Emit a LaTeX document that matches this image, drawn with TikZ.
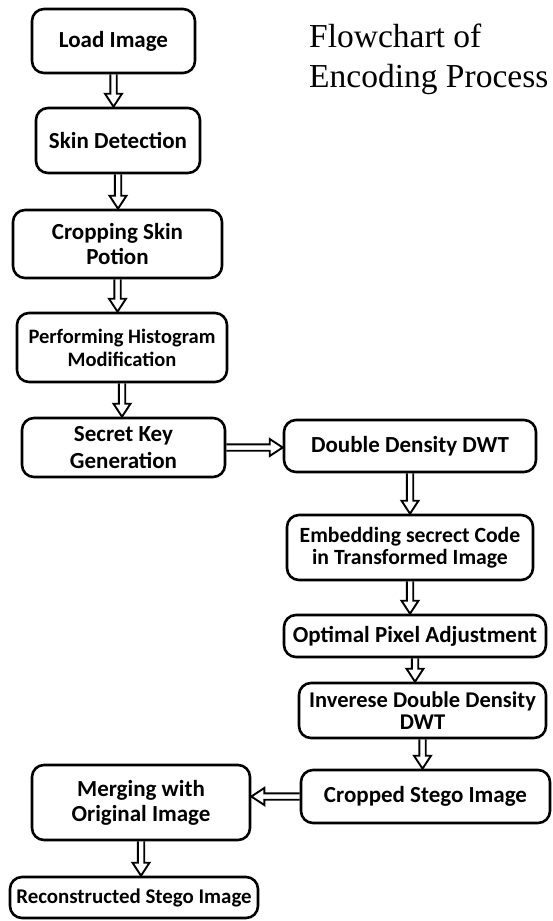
\documentclass[tikz,border=0pt]{standalone}
\usepackage{fontspec}
\setmainfont{Carlito}
\newfontfamily\titlefont{Liberation Serif}
\usetikzlibrary{calc}
\newcommand\boxfs[2]{\fontsize{#1}{#2}\selectfont\bfseries}
\tikzset{
  box/.style={draw, line width=2.6pt, rounded corners=12pt, align=center, inner sep=0pt,
    font=\boxfs{23}{25}},
  blk/.style={draw, line width=1.9pt, line join=miter, to path={
     ($(\tikztotarget)!13pt!(\tikztostart)$) coordinate (bh)
     ($(\tikztostart)!3.2pt!90:(\tikztotarget)$) -- ($(bh)!3.2pt!-90:(\tikztostart)$)
     -- ($(bh)!8.5pt!-90:(\tikztostart)$) -- (\tikztotarget)
     -- ($(bh)!8.5pt!90:(\tikztostart)$) -- ($(bh)!3.2pt!90:(\tikztostart)$)
     -- ($(\tikztostart)!3.2pt!-90:(\tikztotarget)$)
  }}
}
\begin{document}
\begin{tikzpicture}[x=1pt,y=-1pt]
\useasboundingbox (0,0) rectangle (552,921);
\node[box, minimum width=163pt, minimum height=64pt] (load) at (113.5,41) {Load Image};
\node[box, minimum width=164pt, minimum height=65pt] (skin) at (118,140.5) {Skin Detection};
\node[box, minimum width=209pt, minimum height=68pt] (crop) at (117.5,244) {Cropping Skin\\Potion};
\node[box, minimum width=210pt, minimum height=69pt, font=\boxfs{20.5}{23}] (hist) at (122,347.5) {Performing Histogram\\Modification};
\node[box, minimum width=203pt, minimum height=59pt, font=\boxfs{23}{27}] (key) at (123.5,447.5) {Secret Key\\Generation};
\node[box, minimum width=252pt, minimum height=52pt] (ddwt) at (410,446) {Double Density DWT};
\node[box, minimum width=246pt, minimum height=65pt, font=\boxfs{21.7}{22}] (embed) at (410,547.5) {Embedding secrect Code\\in Transformed Image};
\node[box, minimum width=262pt, minimum height=42pt] (opt) at (415,636) {Optimal Pixel Adjustment};
\node[box, minimum width=247pt, minimum height=55pt, font=\boxfs{22.5}{22}] (inv) at (422.5,710.5) {Inverese Double Density\\DWT};
\node[box, minimum width=249pt, minimum height=53pt] (cstego) at (425.5,796.5) {Cropped Stego Image};
\node[box, minimum width=218pt, minimum height=75pt] (merge) at (141,802.5) {Merging with\\Original Image};
\node[box, minimum width=248pt, minimum height=41pt, font=\boxfs{20.9}{24}] (recon) at (134,897.5) {Reconstructed Stego Image};
\node[anchor=north west, inner sep=0pt, align=left, font=\titlefont\fontsize{33.5}{40}\selectfont] (title) at (309,24) {Flowchart of\\Encoding Process};
\draw[blk] (load.south) to (load.south |- skin.north);
\draw[blk] (skin.south) to (skin.south |- crop.north);
\draw[blk] (crop.south) to (crop.south |- hist.north);
\draw[blk] (hist.south) to (hist.south |- key.north);
\draw[blk] (key.east) to (key.east -| ddwt.west);
\draw[blk] (ddwt.south) to (ddwt.south |- embed.north);
\draw[blk] (embed.south) to (embed.south |- opt.north);
\draw[blk] (opt.south) to (opt.south |- inv.north);
\draw[blk] (inv.south) to (inv.south |- cstego.north);
\draw[blk] (cstego.west) to (cstego.west -| merge.east);
\draw[blk] (merge.south) to (merge.south |- recon.north);
\end{tikzpicture}
\end{document}
